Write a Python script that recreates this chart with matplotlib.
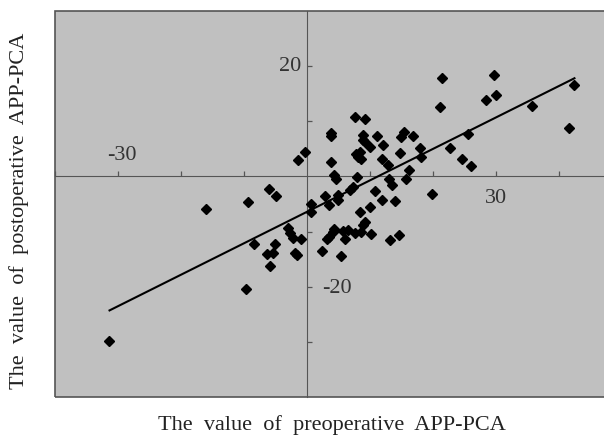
import matplotlib
matplotlib.use("Agg")
import matplotlib.pyplot as plt
from matplotlib.patches import Rectangle

# preoperative / postoperative APP-PCA values
pre_vals = [
    21.4, 29.8, 21.2, 28.5, 30.1, 42.5, 35.7, 41.7, 25.6, 22.7, 24.7, 26.0, 19.9, 18.2, 18.0, 16.9,
    15.5, 15.0, 16.3, 15.7, 14.8, 12.9, 13.0, 13.5, 14.0, 14.6, 13.3, 12.1, 11.2, 11.9, 10.9, 11.9,
    10.0, 10.2, 10.1,
    7.7, 9.2, 3.9, 3.9, 8.9, 8.9, 9.2, 7.8, 8.4, 8.6, 8.1, 3.9, 4.3, 4.7, 8.0, 7.3, 6.9, 2.9, 5.0,
    5.0, 3.6, 8.5, 9.2, 9.0, 4.3, 4.1, 5.8, 6.5, 7.7, 8.6, 3.2, 3.5, 6.1, 2.5, 5.4,
    -0.2, -1.4, 0.7, 0.7, -16.0, -9.3, -6.0, -4.8, -2.9, -2.6, -2.2, -0.9, -8.3, -5.0, -6.3, -5.4,
    -1.8, -1.5, -5.8, -9.7, -31.4,
]
post_vals = [
    17.9, 18.4, 12.6, 13.9, 14.7, 16.5, 12.8, 8.7, 7.7, 5.1, 3.1, 1.8, -3.1, 3.5, 5.2, 7.4,
    8.1, 7.2, 1.1, -0.4, 4.2, 2.1, -0.5, -1.6, -4.5, -10.7, -11.6, 5.7, 7.4, 3.1, -2.7, -4.2,
    -5.5, -10.5, 5.3,
    10.8, 10.5, 7.9, 7.4, 7.6, 6.6, 6.3, 4.0, 4.4, 3.1, 3.6, 2.7, 0.2, -0.4, -0.1, -1.9, -2.4, -3.6, -3.3,
    -4.2, -5.1, -6.5, -8.2, -8.8, -9.6, -10.0, -9.9, -9.7, -10.3, -10.1, -11.4, -10.9, -11.4, -13.6, -14.5,
    4.4, 3.0, -5.0, -6.4, -6.0, -4.6, -2.2, -3.6, -9.3, -10.2, -11.1, -11.3, -12.2, -12.2, -14.0, -13.8,
    -13.8, -14.3, -16.3, -20.5, -29.9,
]

# trend line end points
trend_x = [-31.3, 42.5]
trend_y = [-24.3, 17.8]

x_ticks = [-40, -30, -20, -10, 10, 20, 30, 40]
y_ticks = [-30, -20, -10, 10, 20]

plt.rcParams['font.family'] = ['Liberation Serif', 'DejaVu Serif']

fig = plt.figure(figsize=(6.04, 4.41), dpi=100)
ax = fig.add_axes([0.0906, 0.0998, 0.9387, 0.8753])
ax.set_facecolor('#c0c0c0')
ax.set_xlim(-40, 50)
ax.set_ylim(-40, 30)

axis_col = '#555555'
for s in ['top', 'right']:
    ax.spines[s].set_visible(False)
ax.spines['left'].set_position('zero')
ax.spines['bottom'].set_position('zero')
ax.spines['left'].set_color(axis_col)
ax.spines['bottom'].set_color(axis_col)
ax.add_patch(Rectangle((0, 0), 1, 1, transform=ax.transAxes, fill=False,
                       ec=axis_col, lw=1.2, clip_on=False, zorder=5))

ax.set_xticks(x_ticks)
ax.set_yticks(y_ticks)
ax.set_xticklabels([])
ax.set_yticklabels([])
ax.tick_params(direction='in', length=3.5, width=0.9, color=axis_col)

ax.plot(trend_x, trend_y, color='black', lw=1.5, zorder=3)
ax.plot(pre_vals, post_vals, linestyle='none', marker='D', ms=5,
        color='black', zorder=4)

lab = dict(fontsize=16, color='#333333', textcoords='offset points')
ax.annotate('20', xy=(0, 20), xytext=(-4, 0), ha='right', va='center', **lab)
ax.annotate('-20', xy=(0, -20), xytext=(11, -1), ha='left', va='center', **lab)
ax.annotate('-30', xy=(-30, 0), xytext=(3, 8), ha='center', va='bottom', **lab)
ax.annotate('30', xy=(30, 0), xytext=(0, -9), ha='center', va='top', **lab)

fig.text(332 / 604, 1 - 425 / 441, 'The  value  of  preoperative  APP-PCA',
         ha='center', va='center', fontsize=16, color='#222222')
fig.text(19 / 604, 1 - 211 / 441, 'The  value  of  postoperative  APP-PCA',
         ha='center', va='center', rotation=90, fontsize=16, color='#222222')

fig.savefig('out.png', dpi=100)
